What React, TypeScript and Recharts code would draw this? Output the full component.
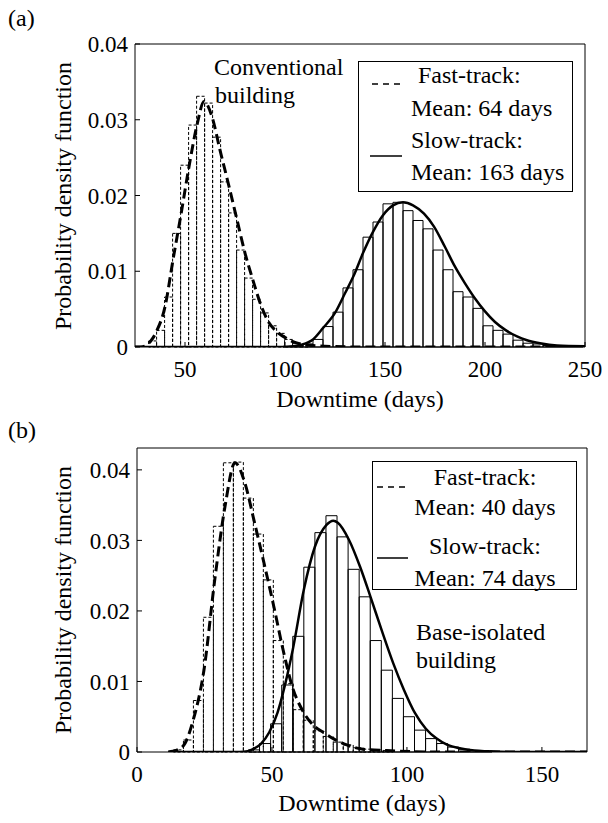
import { ComposedChart, Line, ReferenceArea, XAxis, YAxis } from 'recharts'

const FONT = 'Liberation Serif'

// (a) conventional building: histogram bin edges (days) and heights
const A_FAST_EDGES = [31.8, 35.8, 39.8, 43.8, 47.8, 51.8, 55.8, 59.8, 63.8, 67.8, 71.8, 75.8, 79.8, 83.8, 87.8, 91.8, 95.8, 99.8, 103.8, 107.8, 111.8]
const A_FAST_HIST = [0.0008, 0.0022, 0.0066, 0.015, 0.024, 0.0293, 0.0331, 0.0322, 0.0277, 0.0218, 0.0177, 0.0128, 0.0091, 0.0063, 0.0045, 0.0028, 0.0018, 0.001, 0.0005, 0.0002]
const A_SLOW_EDGES = [99, 104, 109, 114, 119, 124, 129, 134, 139, 144, 149, 154, 159, 164, 169, 174, 179, 184, 189, 194, 199, 204, 209, 214, 219, 224, 229, 234, 239, 244, 249]
const A_SLOW_HIST = [0.0001, 0.0001, 0.0004, 0.001, 0.0027, 0.0046, 0.0078, 0.0102, 0.0145, 0.0165, 0.0189, 0.0191, 0.018, 0.0167, 0.0156, 0.0128, 0.0102, 0.0073, 0.0066, 0.0051, 0.0028, 0.0022, 0.0017, 0.0009, 0.0005, 0.0004, 0.0002, 0.0001, 0.0001, 0.0001]
// fitted pdf curves [days, density]
const A_FAST_PDF = [[25, 0], [28, 0], [31, 0.0003], [34, 0.0012], [36, 0.0022], [40, 0.0053], [44, 0.0115], [48, 0.0175], [52, 0.0238], [56, 0.0293], [59.5, 0.0324], [63.5, 0.0304], [67.5, 0.026], [72, 0.0212], [76, 0.0168], [80, 0.0124], [84, 0.0088], [88, 0.0055], [92, 0.0032], [96, 0.002], [101, 0.0011], [105, 0.0006], [110, 0.0003], [120, 0.0001], [140, 0], [250, 0]]
const A_SLOW_PDF = [[25, 0], [100, 0], [104, 0.0001], [108, 0.0003], [114, 0.001], [119, 0.0025], [125, 0.0045], [130, 0.0071], [134.5, 0.0095], [139, 0.0124], [144, 0.0152], [149, 0.0174], [154, 0.0187], [159, 0.0191], [164, 0.0187], [169.5, 0.0176], [174.5, 0.0159], [180, 0.0132], [185, 0.0106], [190, 0.0084], [195, 0.0064], [200, 0.0047], [205, 0.0033], [210.5, 0.0022], [216, 0.0014], [221, 0.0009], [227.5, 0.0005], [236, 0.0002], [250, 0.0001]]
const A_XTICKS = [50, 100, 150, 200, 250]

// (b) base-isolated building
const B_FAST_EDGES = [13.5, 17.2, 20.9, 24.6, 28.3, 32.0, 35.7, 39.4, 43.1, 46.8, 50.5, 54.2, 57.9, 61.6, 65.3, 69.0, 72.7, 76.4, 80.1, 83.8, 87.5, 91.2, 94.9]
const B_FAST_HIST = [0.0003, 0.0017, 0.0073, 0.0191, 0.032, 0.041, 0.0411, 0.036, 0.0309, 0.0244, 0.0158, 0.0097, 0.006, 0.0045, 0.003, 0.0022, 0.0014, 0.001, 0.0006, 0.0004, 0.0003, 0.0002]
const B_SLOW_EDGES = [41.3, 45.4, 49.5, 53.6, 57.7, 61.8, 65.9, 70.0, 74.1, 78.2, 82.3, 86.4, 90.5, 94.6, 98.7, 102.8, 106.9, 111.0, 115.1, 119.2, 123.3, 127.4, 131.5]
const B_SLOW_HIST = [0.0003, 0.0012, 0.004, 0.0095, 0.0164, 0.0262, 0.0311, 0.0335, 0.0305, 0.0259, 0.022, 0.0158, 0.0116, 0.0076, 0.005, 0.0031, 0.0019, 0.0012, 0.0007, 0.0004, 0.0002, 0.0001]
const B_FAST_PDF = [[11.6, 0], [13.3, 0.0001], [17, 0.0008], [20.8, 0.0045], [24.8, 0.0116], [28.8, 0.0244], [32.6, 0.0348], [36.3, 0.041], [40, 0.0381], [43.3, 0.0329], [46.8, 0.0272], [50.7, 0.0206], [54.4, 0.014], [57.5, 0.0093], [61.6, 0.0057], [65.3, 0.0038], [69, 0.0028], [72.7, 0.0019], [77.7, 0.001], [83.8, 0.0004], [92.5, 0.0002], [110, 0], [166.7, 0]]
const B_SLOW_PDF = [[11.6, 0], [38, 0], [41, 0.0001], [43, 0.0004], [46, 0.0012], [49, 0.0028], [52, 0.0055], [55, 0.0098], [57.7, 0.0145], [61.8, 0.023], [65.9, 0.0291], [70.2, 0.0322], [72.7, 0.0328], [74.4, 0.0325], [78.5, 0.0301], [82.6, 0.0263], [86.5, 0.022], [90.6, 0.0173], [94.9, 0.0126], [98.9, 0.0088], [103, 0.0055], [107, 0.0033], [111, 0.0019], [115, 0.001], [120, 0.0005], [125, 0.0002], [130, 0.0001], [140, 0], [166.7, 0]]
const B_XTICKS = [0, 50, 100, 150]

const Y_TICKS = [0, 0.01, 0.02, 0.03, 0.04]

const toPts = (arr: number[][]) => arr.map(([x, y]) => ({ x, y }))
const fmtY = (v: number) => (v === 0 ? '0' : v.toFixed(2))

function Hist({ edges, hist, dashed }: { edges: number[]; hist: number[]; dashed?: boolean }) {
  return hist.map((h, i) => (
    <ReferenceArea
      key={(dashed ? 'f' : 's') + i}
      x1={edges[i]}
      x2={edges[i + 1]}
      y1={0}
      y2={h}
      fill="none"
      fillOpacity={0}
      stroke="#000"
      strokeWidth={1}
      strokeDasharray={dashed ? '3 2' : undefined}
      ifOverflow="visible"
    />
  ))
}

const AX_H = 40 // bottom axis band
const AX_W = 70 // left axis band

function Panel({
  top, height, plot, xDomain, yDomain, xTicks, fast, slow,
}: {
  top: number
  height: number
  plot: { top: number; right: number; bottom: number; left: number }
  xDomain: [number, number]
  yDomain: [number, number]
  xTicks: number[]
  fast: { edges: number[]; hist: number[]; pdf: number[][] }
  slow: { edges: number[]; hist: number[]; pdf: number[][] }
}) {
  const tick = { fontSize: 23, fill: '#000', fontFamily: FONT }
  const margin = {
    top: plot.top - 1,
    right: plot.right - 1,
    bottom: plot.bottom - AX_H,
    left: plot.left - AX_W,
  }
  return (
    <div style={{ position: 'absolute', left: 0, top }}>
      <ComposedChart width={608} height={height} margin={margin}>
        <XAxis
          dataKey="x" type="number" domain={xDomain} ticks={xTicks} allowDataOverflow
          height={AX_H} tickSize={-5} tickMargin={19} tick={tick}
          stroke="#000" tickLine={{ stroke: '#000' }} interval={0}
        />
        <XAxis
          xAxisId="top" orientation="top" type="number" domain={xDomain} ticks={xTicks}
          allowDataOverflow height={1} tickSize={-5} tick={false} stroke="#000" interval={0}
        />
        <YAxis
          type="number" domain={yDomain} ticks={Y_TICKS} allowDataOverflow width={AX_W}
          tickSize={-5} tickMargin={12} tick={tick} tickFormatter={fmtY}
          stroke="#000" tickLine={{ stroke: '#000' }} interval={0}
        />
        <YAxis
          yAxisId="r" orientation="right" type="number" domain={yDomain} ticks={Y_TICKS}
          allowDataOverflow width={1} tickSize={-5} tick={false} stroke="#000" interval={0}
        />
        {Hist({ edges: slow.edges, hist: slow.hist })}
        {Hist({ edges: fast.edges, hist: fast.hist, dashed: true })}
        <Line
          data={toPts(slow.pdf)} dataKey="y" type="monotone" stroke="#000" strokeWidth={2.5}
          dot={false} isAnimationActive={false}
        />
        <Line
          data={toPts(fast.pdf)} dataKey="y" type="monotone" stroke="#000" strokeWidth={3}
          strokeDasharray="10 5" dot={false} isAnimationActive={false}
        />
      </ComposedChart>
    </div>
  )
}

function T({ x, y, children, center, size = 24 }: { x: number; y: number; children: React.ReactNode; center?: boolean; size?: number }) {
  return (
    <div
      style={{
        position: 'absolute', left: x, top: y, fontFamily: FONT, fontSize: size, lineHeight: 1,
        whiteSpace: 'nowrap', color: '#000',
        transform: center ? 'translate(-50%, -50%)' : 'translate(0, -50%)',
      }}
    >
      {children}
    </div>
  )
}

function LegendLine({ x1, x2, y, dashed }: { x1: number; x2: number; y: number; dashed?: boolean }) {
  return (
    <svg style={{ position: 'absolute', left: x1, top: y - 2 }} width={x2 - x1} height={4}>
      <line x1={0} x2={x2 - x1} y1={2} y2={2} stroke="#000" strokeWidth={1.5} strokeDasharray={dashed ? '6 5' : undefined} />
    </svg>
  )
}

function Box({ x, y, w, h }: { x: number; y: number; w: number; h: number }) {
  return <div style={{ position: 'absolute', left: x, top: y, width: w, height: h, border: '1px solid #000', background: '#fff', boxSizing: 'border-box' }} />
}

function YLabel({ x, y }: { x: number; y: number }) {
  return (
    <div
      style={{
        position: 'absolute', left: x, top: y, fontFamily: FONT, fontSize: 24, lineHeight: 1,
        whiteSpace: 'nowrap', transform: 'translate(-50%, -50%) rotate(-90deg)',
      }}
    >
      Probability density function
    </div>
  )
}

export default function App() {
  return (
    <div style={{ position: 'absolute', left: 0, top: 0, width: 608, height: 823, background: '#fff', overflow: 'hidden' }}>
      <Panel
        top={0} height={400} plot={{ top: 44, right: 23, bottom: 53, left: 135 }}
        xDomain={[25, 250]} yDomain={[0, 0.04]} xTicks={A_XTICKS}
        fast={{ edges: A_FAST_EDGES, hist: A_FAST_HIST, pdf: A_FAST_PDF }}
        slow={{ edges: A_SLOW_EDGES, hist: A_SLOW_HIST, pdf: A_SLOW_PDF }}
      />
      <Panel
        top={400} height={423} plot={{ top: 48, right: 21, bottom: 71, left: 137 }}
        xDomain={[0, 166.7]} yDomain={[0, 0.0431]} xTicks={B_XTICKS}
        fast={{ edges: B_FAST_EDGES, hist: B_FAST_HIST, pdf: B_FAST_PDF }}
        slow={{ edges: B_SLOW_EDGES, hist: B_SLOW_HIST, pdf: B_SLOW_PDF }}
      />

      <T x={8} y={18}>(a)</T>
      <T x={8} y={430}>(b)</T>
      <YLabel x={63} y={196} />
      <YLabel x={63} y={600} />
      <T x={360} y={399} center>Downtime (days)</T>
      <T x={362} y={803} center>Downtime (days)</T>

      <T x={214} y={67}>Conventional</T>
      <T x={215} y={95}>building</T>
      <T x={416} y={632}>Base-isolated</T>
      <T x={416} y={660}>building</T>

      <Box x={358} y={61} w={215} h={131} />
      <LegendLine x1={372} x2={403} y={84} dashed />
      <T x={418} y={75}>Fast-track:</T>
      <T x={411} y={108}>Mean: 64 days</T>
      <LegendLine x1={370} x2={402} y={156} />
      <T x={411} y={140}>Slow-track:</T>
      <T x={411} y={172}>Mean: 163 days</T>

      <Box x={372} y={461} w={205} h={129} />
      <LegendLine x1={377} x2={408} y={487} dashed />
      <T x={485} y={477} center>Fast-track:</T>
      <T x={485} y={507} center>Mean: 40 days</T>
      <LegendLine x1={377} x2={408} y={558} />
      <T x={485} y={546} center>Slow-track:</T>
      <T x={485} y={578} center>Mean: 74 days</T>
    </div>
  )
}
